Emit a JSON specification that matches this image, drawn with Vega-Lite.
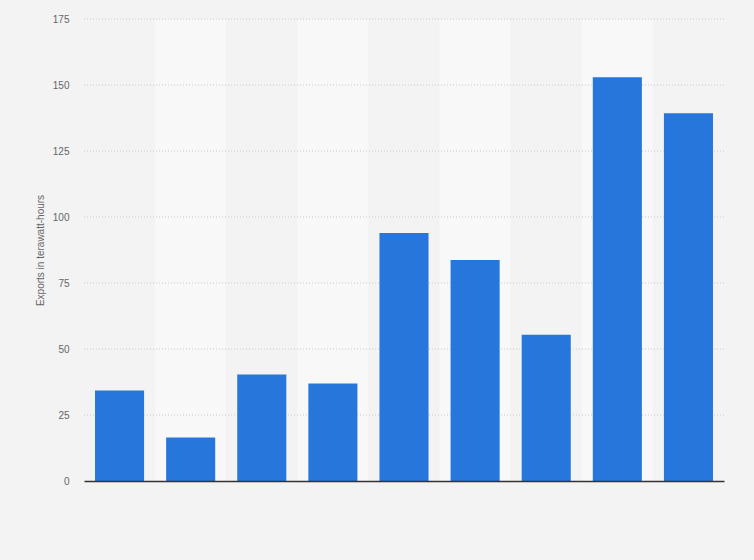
{
  "$schema": "https://vega.github.io/schema/vega-lite/v6.json",
  "autosize": "none",
  "padding": {"left": 84, "top": 19, "right": 30, "bottom": 79},
  "width": 640,
  "height": 462,
  "background": "#f3f3f3",
  "config": {
    "view": {"stroke": null},
    "font": "Liberation Sans"
  },
  "data": {
    "values": [
      {"cat": "1", "exports": 34.3},
      {"cat": "2", "exports": 16.5},
      {"cat": "3", "exports": 40.3},
      {"cat": "4", "exports": 36.9},
      {"cat": "5", "exports": 93.9},
      {"cat": "6", "exports": 83.7},
      {"cat": "7", "exports": 55.4},
      {"cat": "8", "exports": 152.9},
      {"cat": "9", "exports": 139.3}
    ]
  },
  "layer": [
    {
      "mark": {"type": "bar", "width": {"band": 1}},
      "encoding": {
        "x": {
          "field": "cat",
          "type": "nominal",
          "sort": null,
          "scale": {"paddingInner": 0, "paddingOuter": 0},
          "axis": {
            "title": null,
            "labels": false,
            "ticks": false,
            "domain": true,
            "domainColor": "#333333",
            "domainWidth": 1.5,
            "grid": false,
            "zindex": 1
          }
        },
        "y": {
          "datum": 175,
          "type": "quantitative",
          "scale": {"domain": [0, 175], "nice": false},
          "axis": {
            "values": [0, 25, 50, 75, 100, 125, 150, 175],
            "title": "Exports in terawatt-hours",
            "titleFont": "Liberation Sans",
            "titleFontSize": 10,
            "titleFontWeight": "normal",
            "titleColor": "#666666",
            "titlePadding": 7,
            "labelFontSize": 10,
            "labelColor": "#666666",
            "labelPadding": 15,
            "ticks": false,
            "domain": false,
            "grid": false
          }
        },
        "y2": {"datum": 0},
        "fill": {
          "condition": {
            "test": "indexof(['2','4','6','8'], datum.cat) >= 0",
            "value": "#f8f8f8"
          },
          "value": "#f3f3f3"
        }
      }
    },
    {
      "data": {"values": [{"tick": 25}, {"tick": 50}, {"tick": 75}, {"tick": 100}, {"tick": 125}, {"tick": 150}, {"tick": 175}]},
      "mark": {"type": "rule", "color": "#c8c8c8", "strokeDash": [1, 2], "strokeWidth": 1},
      "encoding": {
        "y": {"field": "tick", "type": "quantitative"}
      }
    },
    {
      "mark": {"type": "bar", "width": {"band": 0.69}, "color": "#2776dc"},
      "encoding": {
        "x": {"field": "cat", "type": "nominal", "sort": null},
        "y": {"field": "exports", "type": "quantitative"}
      }
    }
  ]
}
